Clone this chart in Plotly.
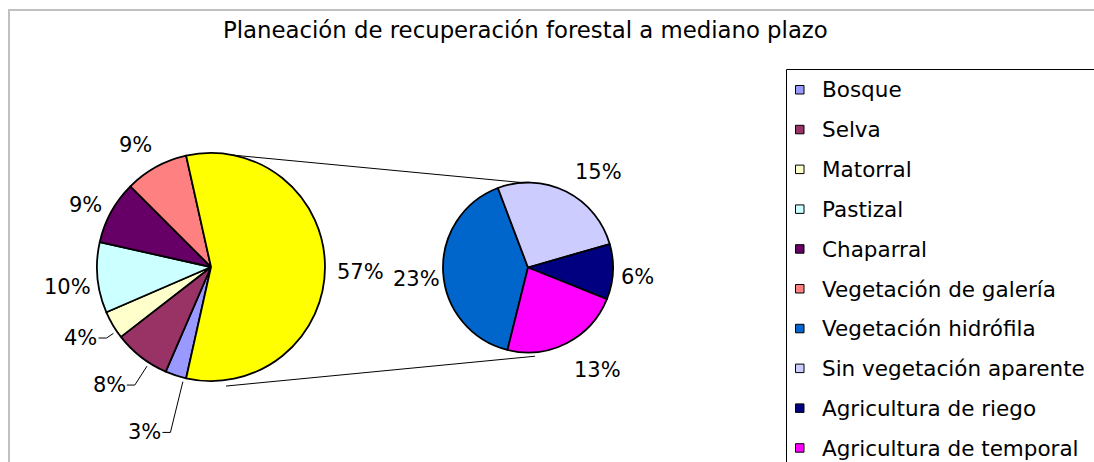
import math
import plotly.graph_objects as go

W, H = 1094, 462

title = "Planeación de recuperación forestal a mediano plazo"

# Primary pie categories
main_labels = ["Bosque", "Selva", "Matorral", "Pastizal", "Chaparral", "Vegetación de galería"]
main_values = [3, 8, 4, 10, 9, 9]
main_colors = ["#9999FF", "#993366", "#FFFFCC", "#CCFFFF", "#660066", "#FF8080"]

# Categories broken out into the secondary pie
sub_labels = ["Vegetación hidrófila", "Sin vegetación aparente", "Agricultura de riego", "Agricultura de temporal"]
sub_values = [23, 15, 6, 13]
sub_colors = ["#0066CC", "#CCCCFF", "#000080", "#FF00FF"]

other_label = "Otros"
other_color = "#FFFF00"

FONT = "DejaVu Sans"

# ---- geometry (pixels) ----
MAIN_CX, MAIN_CY, MAIN_R = 211, 267, 114
SUB_CX, SUB_CY, SUB_R = 528, 267.5, 85
SUB_ROT = 194

# label offsets (pixels) from the outer mid-point of each slice
main_label_offsets = [(-31, 57), (-32, 28), (-32, 13), (-30, 9), (-26, -7), (-21, -22)]
main_leader = [True, True, True, False, False, False]
other_label_offset = (35, 5)
sub_label_offsets = [(-27, 7), (32, -20), (25, 5), (31, 27)]

LABEL_SIZE = 21
CHAR_W = {"%": 0.950}


def text_width(s, size):
    return sum(CHAR_W.get(c, 0.636) for c in s) * size


def px(x):
    return x / W


def py(y):
    return 1 - y / H


def on_circle(cx, cy, r, ang):
    a = math.radians(ang)
    return cx + r * math.sin(a), cy - r * math.cos(a)


def wrap(a):
    a = a % 360
    return a - 360 if a > 180 else a


def mid_angles(values, rot):
    tot = sum(values)
    out, cur = [], rot
    for v in values:
        span = 360 * v / tot
        out.append(cur + span / 2)
        cur += span
    return out


other_value = sum(sub_values)
total = sum(main_values) + other_value
main_all_values = main_values + [other_value]
main_all_labels = main_labels + [other_label]
main_all_colors = main_colors + [other_color]
# the aggregated slice is centred pointing at the secondary pie
MAIN_ROT = 90 + 360 * other_value / total / 2

fig = go.Figure()

fig.add_trace(go.Pie(
    labels=main_all_labels, values=main_all_values, sort=False,
    direction="clockwise", rotation=wrap(MAIN_ROT),
    marker=dict(colors=main_all_colors, line=dict(color="black", width=1.8)),
    textinfo="none", hoverinfo="label+value", showlegend=False,
    domain=dict(x=[px(MAIN_CX - MAIN_R), px(MAIN_CX + MAIN_R)],
                y=[py(MAIN_CY + MAIN_R), py(MAIN_CY - MAIN_R)]),
))

fig.add_trace(go.Pie(
    labels=sub_labels, values=sub_values, sort=False,
    direction="clockwise", rotation=wrap(SUB_ROT),
    marker=dict(colors=sub_colors, line=dict(color="black", width=1.8)),
    textinfo="none", hoverinfo="label+value", showlegend=False,
    domain=dict(x=[px(SUB_CX - SUB_R), px(SUB_CX + SUB_R)],
                y=[py(SUB_CY + SUB_R), py(SUB_CY - SUB_R)]),
))

shapes = []
annotations = []


def add_label(text, x, y):
    annotations.append(dict(
        x=px(x), y=py(y), xref="paper", yref="paper", text=text, showarrow=False,
        xanchor="center", yanchor="middle",
        font=dict(family=FONT, size=LABEL_SIZE, color="black")))


def add_line(points, color="black", width=1):
    path = "M " + " L ".join(f"{px(x):.6f},{py(y):.6f}" for x, y in points)
    shapes.append(dict(type="path", path=path, xref="paper", yref="paper",
                       line=dict(color=color, width=width), layer="above"))


# primary pie percentage labels
main_mids = mid_angles(main_all_values, MAIN_ROT)
for i, v in enumerate(main_values):
    ex, ey = on_circle(MAIN_CX, MAIN_CY, MAIN_R, main_mids[i])
    dx, dy = main_label_offsets[i]
    lx, ly = ex + dx, ey + dy
    text = f"{round(100 * v / total)}%"
    add_label(text, lx, ly)
    if main_leader[i]:
        half = text_width(text, LABEL_SIZE) / 2
        kx, ky = lx + half + 9, ly
        ang = math.degrees(math.atan2(kx - MAIN_CX, -(ky - MAIN_CY)))
        tx, ty = on_circle(MAIN_CX, MAIN_CY, MAIN_R + 4, ang)
        add_line([(lx + half + 1, ly), (kx, ky), (tx, ty)])

ex, ey = on_circle(MAIN_CX, MAIN_CY, MAIN_R, main_mids[-1])
add_label(f"{round(100 * other_value / total)}%", ex + other_label_offset[0], ey + other_label_offset[1])

# secondary pie percentage labels
sub_mids = mid_angles(sub_values, SUB_ROT)
for i, v in enumerate(sub_values):
    ex, ey = on_circle(SUB_CX, SUB_CY, SUB_R, sub_mids[i])
    dx, dy = sub_label_offsets[i]
    add_label(f"{round(100 * v / total)}%", ex + dx, ey + dy)

# connector lines between the two pies
add_line([on_circle(MAIN_CX, MAIN_CY, MAIN_R, 11), on_circle(SUB_CX, SUB_CY, SUB_R, -3.5)])
add_line([on_circle(MAIN_CX, MAIN_CY, MAIN_R + 6, 172.8), on_circle(SUB_CX, SUB_CY, SUB_R + 4, 175.5)])

# chart frame
shapes.append(dict(type="rect", xref="paper", yref="paper",
                   x0=px(9), x1=px(W + 30), y0=py(10), y1=py(H + 30),
                   line=dict(color="#C0C0C0", width=2), layer="below"))

# title
annotations.append(dict(
    x=px(525.5), y=py(30), xref="paper", yref="paper", text=title, showarrow=False,
    xanchor="center", yanchor="middle", font=dict(family=FONT, size=22.8, color="black")))

# legend
LEG_X0, LEG_Y0 = 786.5, 69.5
LEG_TOP, LEG_STEP = 90, 39.8
shapes.append(dict(type="rect", xref="paper", yref="paper",
                   x0=px(LEG_X0), x1=px(W + 30), y0=py(LEG_Y0), y1=py(H + 30),
                   line=dict(color="black", width=1), fillcolor="white", layer="below"))
legend_labels = main_labels + sub_labels
legend_colors = main_colors + sub_colors
for i, (lab, col) in enumerate(zip(legend_labels, legend_colors)):
    yc = LEG_TOP + i * LEG_STEP
    shapes.append(dict(type="rect", xref="paper", yref="paper",
                       x0=px(795.5), x1=px(804), y0=py(yc - 4.5), y1=py(yc + 4),
                       fillcolor=col, line=dict(color="black", width=1), layer="above"))
    annotations.append(dict(
        x=px(820), y=py(yc), xref="paper", yref="paper", text=lab, showarrow=False,
        xanchor="left", yanchor="middle",
        font=dict(family=FONT, size=21.5, color="black")))

fig.update_layout(
    width=W, height=H,
    margin=dict(l=0, r=0, t=0, b=0),
    paper_bgcolor="white", plot_bgcolor="white",
    showlegend=False,
    shapes=shapes, annotations=annotations,
)

fig.write_html("out.html")
